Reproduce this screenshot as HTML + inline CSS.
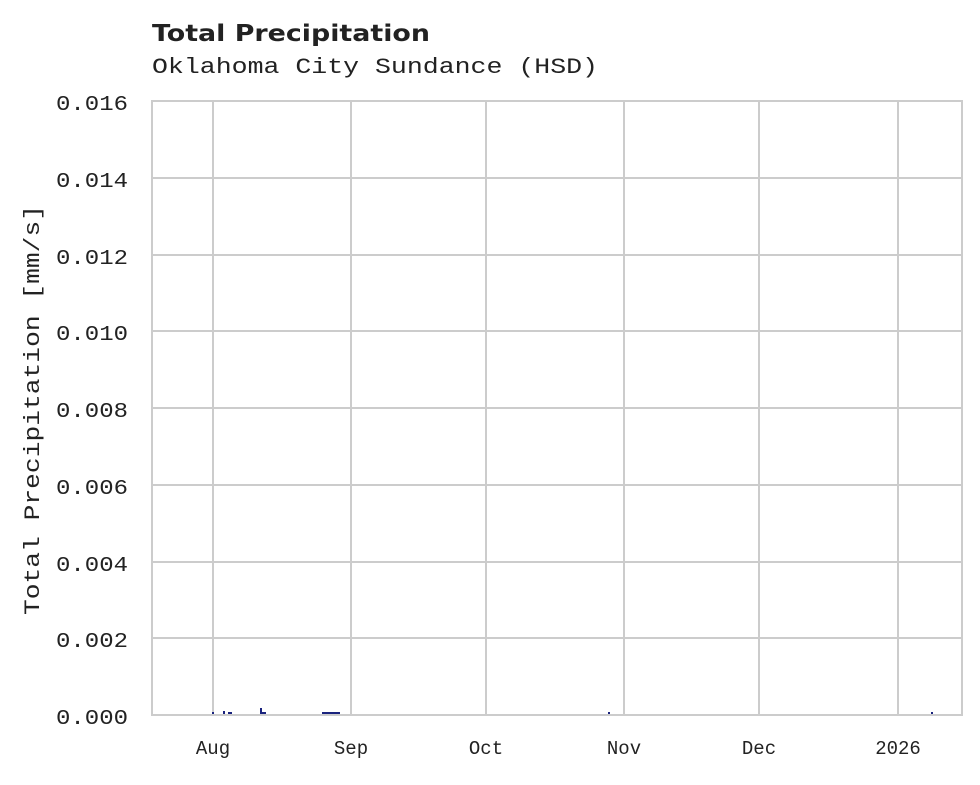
<!DOCTYPE html>
<html><head><style>
body{margin:0;background:#fff;width:980px;height:780px;overflow:hidden;font-family:"Liberation Mono",monospace;}
</style></head><body>
<svg width="980" height="780" xmlns="http://www.w3.org/2000/svg">
<text x="152" y="41" font-family="DejaVu Sans,Liberation Sans,sans-serif" font-weight="bold" font-size="23" fill="#222" textLength="278" lengthAdjust="spacingAndGlyphs">Total Precipitation</text>
<text x="152" y="73" font-family="Liberation Mono,monospace" font-size="22" fill="#222" textLength="446" lengthAdjust="spacingAndGlyphs">Oklahoma City Sundance (HSD)</text>
<g stroke="#cccccc" stroke-width="2">
<line x1="152" x2="962" y1="178" y2="178"/>
<line x1="152" x2="962" y1="255" y2="255"/>
<line x1="152" x2="962" y1="331" y2="331"/>
<line x1="152" x2="962" y1="408" y2="408"/>
<line x1="152" x2="962" y1="485" y2="485"/>
<line x1="152" x2="962" y1="562" y2="562"/>
<line x1="152" x2="962" y1="638" y2="638"/>
<line x1="213" x2="213" y1="101" y2="715"/>
<line x1="351" x2="351" y1="101" y2="715"/>
<line x1="486" x2="486" y1="101" y2="715"/>
<line x1="624" x2="624" y1="101" y2="715"/>
<line x1="759" x2="759" y1="101" y2="715"/>
<line x1="898" x2="898" y1="101" y2="715"/>
<rect x="152" y="101" width="810" height="614" fill="none"/>
</g>
<g stroke="#1a237e" stroke-width="2">
<line x1="213" x2="213" y1="714" y2="712"/>
<line x1="224" x2="224" y1="714" y2="711"/>
<line x1="228" x2="232" y1="713" y2="713"/>
<line x1="261" x2="261" y1="714" y2="708"/>
<line x1="261" x2="266" y1="713" y2="713"/>
<line x1="322" x2="340" y1="713" y2="713"/>
<line x1="609" x2="609" y1="714" y2="712"/>
<line x1="932" x2="932" y1="714" y2="712"/>
</g>
<g font-size="21" fill="#222">
<text x="56" y="110" textLength="72" lengthAdjust="spacingAndGlyphs">0.016</text>
<text x="56" y="187" textLength="72" lengthAdjust="spacingAndGlyphs">0.014</text>
<text x="56" y="264" textLength="72" lengthAdjust="spacingAndGlyphs">0.012</text>
<text x="56" y="340" textLength="72" lengthAdjust="spacingAndGlyphs">0.010</text>
<text x="56" y="417" textLength="72" lengthAdjust="spacingAndGlyphs">0.008</text>
<text x="56" y="494" textLength="72" lengthAdjust="spacingAndGlyphs">0.006</text>
<text x="56" y="571" textLength="72" lengthAdjust="spacingAndGlyphs">0.004</text>
<text x="56" y="647" textLength="72" lengthAdjust="spacingAndGlyphs">0.002</text>
<text x="56" y="724" textLength="72" lengthAdjust="spacingAndGlyphs">0.000</text>
</g>
<g font-size="19" fill="#222" text-anchor="middle">
<text x="213" y="754">Aug</text>
<text x="351" y="754">Sep</text>
<text x="486" y="754">Oct</text>
<text x="624" y="754">Nov</text>
<text x="759" y="754">Dec</text>
<text x="898" y="754">2026</text>
</g>
<text transform="translate(39,615) rotate(-90)" font-size="22" fill="#222" textLength="410" lengthAdjust="spacingAndGlyphs">Total Precipitation [mm/s]</text>
</svg>
</body></html>
